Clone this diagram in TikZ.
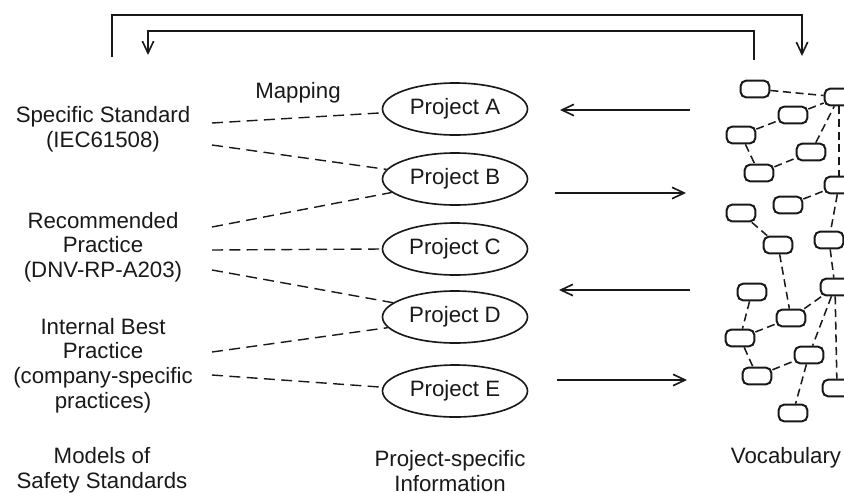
\documentclass[tikz,border=0pt]{standalone}
\usepackage{fontspec}
\setmainfont{Liberation Sans}
\usepackage{tikz}
\usetikzlibrary{arrows.meta,positioning,shapes.geometric}
\definecolor{vink}{RGB}{25,25,25}
\newcommand{\bigtxt}{\fontsize{19}{21}\selectfont}

\tikzset{
  project/.style={ellipse, draw=vink, line width=1.4pt, minimum width=4.35cm,
    minimum height=1.56cm, inner sep=0pt, font=\bigtxt, text=vink},
  stdlabel/.style={align=center, font=\bigtxt, text=vink},
  term/.style={rectangle, rounded corners=0.16cm, draw=vink, line width=1.7pt,
    minimum width=0.86cm, minimum height=0.5cm, inner sep=0pt},
  maplink/.style={vink, line width=1.2pt, dash pattern=on 0.33cm off 0.19cm},
  vlink/.style={vink, line width=1.3pt, dash pattern=on 0.24cm off 0.14cm},
  flow/.style={->, vink, line width=1.4pt},
}

\begin{document}
\begin{tikzpicture}[x=0.03cm, y=-0.03cm, >={Straight Barb[length=0.36cm,width=0.34cm]}]
  \clip (0,0) rectangle (844,492);
  % standards
  \node[stdlabel] (spec) at (103,129.5) {Specific Standard\\(IEC61508)};
  \node[stdlabel] (rec) at (103,247) {Recommended\\Practice\\(DNV-RP-A203)};
  \node[stdlabel] (ibp) at (103,365.5) {Internal Best\\Practice\\(company-specific\\practices)};
  \node[stdlabel] (models) at (102,470) {Models of\\Safety Standards};
  \node[stdlabel] (mapping) at (298,93) {Mapping};

  % projects
  \node[project] (pa) at (455,109) {Project A};
  \node[project] (pb) at (455,179) {Project B};
  \node[project] (pc) at (455,249) {Project C};
  \node[project] (pd) at (455,317) {Project D};
  \node[project] (pe) at (455,391) {Project E};
  \node[stdlabel] (pinfo) at (450,471) {Project-specific\\Information};

  % mapping lines
  \coordinate (m1) at (212,123);
  \coordinate (m2) at (212,145);
  \coordinate (m3) at (212,227);
  \coordinate (m4) at (212,250);
  \coordinate (m5) at (212,270);
  \coordinate (m6) at (212,352);
  \coordinate (m7) at (212,375);
  \draw[maplink] (m1) -- (pa.183);
  \draw[maplink] (m2) -- (pb.172);
  \draw[maplink] (m3) -- (pb.192);
  \draw[maplink] (m4) -- (pc.west);
  \draw[maplink] (m5) -- (pd.167);
  \draw[maplink] (m6) -- (pd.189);
  \draw[maplink] (m7) -- (pe.177);

  % exchange with vocabulary
  \coordinate (xa) at (690,110);  \coordinate (ya) at (560,110);
  \coordinate (xb) at (555,193);  \coordinate (yb) at (686,193);
  \coordinate (xd) at (690,290);  \coordinate (yd) at (559,290);
  \coordinate (xe) at (557,380);  \coordinate (ye) at (687,380);
  \draw[flow] (xa) -- (ya);
  \draw[flow] (xb) -- (yb);
  \draw[flow] (xd) -- (yd);
  \draw[flow] (xe) -- (ye);

  % feedback loops on top
  \coordinate (fo1) at (112,57);  \coordinate (fo2) at (802,56);
  \coordinate (fi1) at (754,60);  \coordinate (fi2) at (148,55);
  \draw[flow] (fo1) |- (457,15) -| (fo2);
  \draw[flow] (fi1) |- (451,31) -| (fi2);

  % vocabulary graph
  \foreach \n/\x/\y in {1/755/89, 2/839/97, 3/793/115, 4/741/135, 5/811/152,
      6/759/173, 7/839/185, 8/788/205, 9/741/213, 10/778/245, 11/829/240,
      12/835/287, 13/752/292, 14/791/318, 15/740/338, 16/809/355,
      17/757/376, 18/837/388, 19/793/413}
    \node[term] (v\n) at (\x,\y) {};
  \foreach \a/\b in {1/2, 3/2, 4/3, 4/6, 6/5, 5/2, 2/7, 8/7, 7/11, 9/10,
      10/14, 11/12, 13/15, 15/14, 14/12, 12/16, 12/18, 15/17, 17/16, 16/19}
    \draw[vlink] (v\a) -- (v\b);
  \node[stdlabel] (vocab) at (786,458) {Vocabulary};
\end{tikzpicture}
\end{document}
